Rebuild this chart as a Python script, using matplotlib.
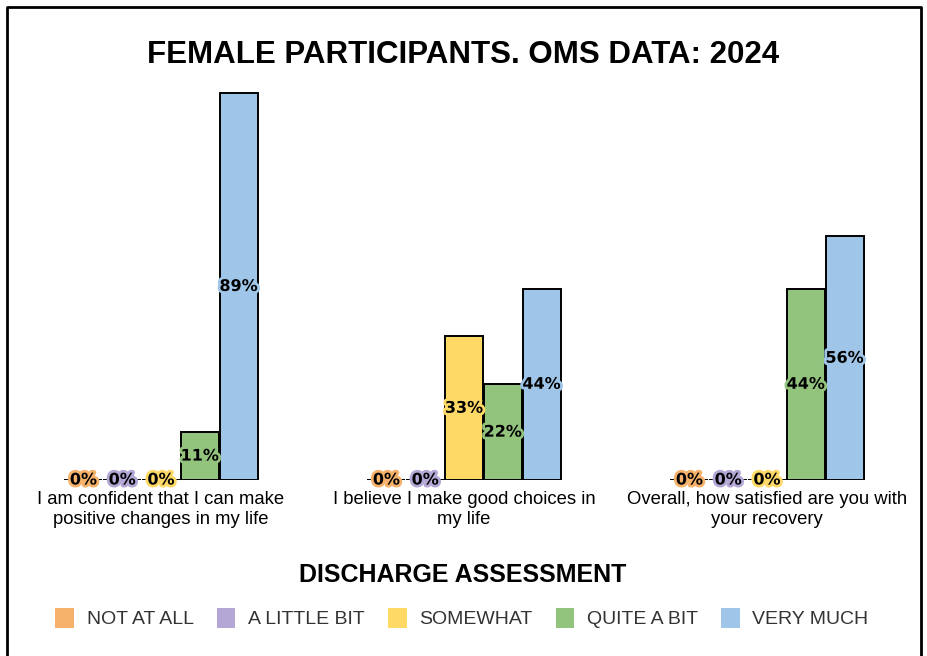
import matplotlib
matplotlib.use("Agg")
import matplotlib.pyplot as plt
import matplotlib.patheffects as pe
from matplotlib.patches import Patch
from matplotlib.lines import Line2D
import numpy as np

categories = ["I am confident that I can make\npositive changes in my life",
              "I believe I make good choices in\nmy life",
              "Overall, how satisfied are you with\nyour recovery"]
series = ["NOT AT ALL", "A LITTLE BIT", "SOMEWHAT", "QUITE A BIT", "VERY MUCH"]
not_at_all = [0, 0, 0]
a_little_bit = [0, 0, 0]
somewhat = [0, 33, 0]
quite_a_bit = [11, 22, 44]
very_much = [89, 44, 56]
colors = ["#f6b26b", "#b4a7d6", "#ffd966", "#93c47d", "#9fc5e8"]
values = [not_at_all, a_little_bit, somewhat, quite_a_bit, very_much]

W, H = 927, 656
fig = plt.figure(figsize=(W / 100, H / 100), dpi=100)

def px(x0, y0, x1, y1):
    return [x0 / W, 1 - y1 / H, (x1 - x0) / W, (y1 - y0) / H]

ax = fig.add_axes(px(9.5, 45, 918.5, 480))
ax.set_xlim(-0.5, 2.5)
ax.set_ylim(0, 100)
for s in ax.spines.values():
    s.set_visible(False)
ax.set_yticks([])

x = np.arange(len(categories))
step = 0.128
bw = 0.125
for i, (name, vals, c) in enumerate(zip(series, values, colors)):
    xs = x + (i - 2) * step
    ax.bar(xs, vals, width=bw, color=c, edgecolor="black", linewidth=1.4, zorder=2)
    for xi, v in zip(xs, vals):
        ax.text(xi, v / 2, f"{v}%", ha="center", va="center", fontsize=11.5,
                fontweight="bold", family="DejaVu Sans", color="black", zorder=4,
                path_effects=[pe.withStroke(linewidth=4, foreground=c)])

ax.set_xticks(x)
ax.set_xticklabels(categories, fontsize=13.3, family="Liberation Sans",
                   linespacing=1.2)
ax.tick_params(axis="x", length=0, pad=8)

fig.text(463 / W, 1 - 55 / H, "FEMALE PARTICIPANTS. OMS DATA: 2024",
         ha="center", va="center", fontsize=22.5, fontweight="bold",
         family="Liberation Sans")
fig.text(463 / W, 1 - 575 / H, "DISCHARGE ASSESSMENT", ha="center",
         va="center", fontsize=18, fontweight="bold", family="Liberation Sans")

handles = [Patch(facecolor=c, edgecolor="none") for c in colors]
leg = fig.legend(handles, series, loc="center", bbox_to_anchor=(462 / W, 1 - 618 / H),
                 ncol=5, frameon=False, handlelength=0.95, handleheight=1.25,
                 handletextpad=0.65, columnspacing=1.2,
                 prop={"family": "Liberation Sans", "size": 14})
for t in leg.get_texts():
    t.set_color("#333333")

# outer frame (top, left, right)
lw = 2
fig.add_artist(Line2D([7 / W, 7 / W, 921 / W, 921 / W],
                      [0, 1 - 7 / H, 1 - 7 / H, 0], color="black",
                      linewidth=lw, transform=fig.transFigure))

fig.savefig("out.png", dpi=100)
